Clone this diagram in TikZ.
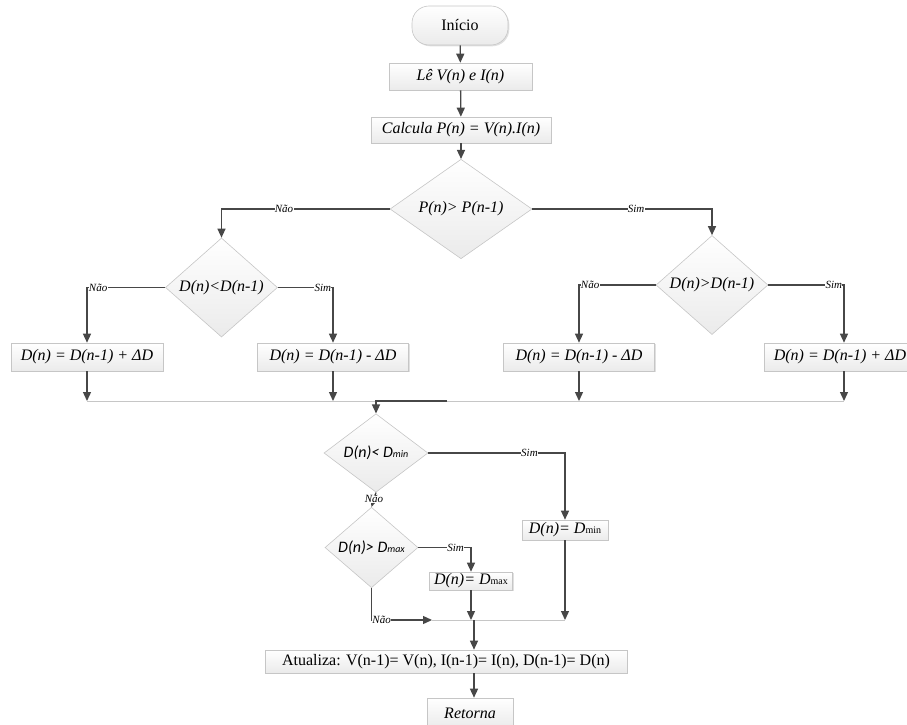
\documentclass[tikz,border=0pt]{standalone}
\usepackage{fontspec}
\setmainfont{Liberation Serif}
\newfontfamily\calfont{Carlito}
\usetikzlibrary{shapes.geometric,arrows.meta,shadows}
\begin{document}
\begin{tikzpicture}[x=1pt,y=-1pt,
  shade/.style={draw=gray!45, line width=0.6pt, top color=white, bottom color=gray!16},
  box/.style={shade, rectangle, inner sep=0pt,
    drop shadow={shadow xshift=1.3pt,shadow yshift=-1.3pt,opacity=0.35,fill=gray!70},
    font=\fontsize{16}{19}\selectfont\itshape},
  dec/.style={shade, diamond, inner sep=0pt, font=\fontsize{16}{19}\selectfont\itshape},
  arr/.style={draw=black!72, line width=1.3pt, -{Triangle[length=9pt,width=8pt]}},
  mg/.style={draw=gray!45, line width=0.8pt},
  lab/.style={font=\fontsize{11}{12}\selectfont\itshape, fill=white, inner sep=0.3pt}
]
\useasboundingbox (0,0) rectangle (907,725);

% nodes
\node[box, rounded corners=17pt, minimum width=96pt, minimum height=39pt, font=\fontsize{16}{19}\selectfont] (ini) at (460,25.5) {Início};
\node[box, minimum width=143pt, minimum height=27pt] (le) at (460.5,76.5) {Lê V(n) e I(n)};
\node[box, minimum width=180pt, minimum height=26pt] (calc) at (461,130) {Calcula P(n) = V(n).I(n)};
\node[dec, minimum width=142pt, minimum height=86pt] (dp) at (461,209) {P(n)> P(n-1)};
\node[dec, minimum width=112pt, minimum height=71pt] (dl) at (221.5,287.5) {D(n)<D(n-1)};
\node[dec, minimum width=112pt, minimum height=66pt] (dr) at (712,285) {D(n)>D(n-1)};
\node[box, minimum width=152pt, minimum height=28pt] (b1) at (87,357) {D(n) = D(n-1) + ΔD};
\node[box, minimum width=151pt, minimum height=28pt] (b2) at (333,357) {D(n) = D(n-1) - ΔD};
\node[box, minimum width=151pt, minimum height=28pt] (b3) at (579,357) {D(n) = D(n-1) - ΔD};
\node[box, minimum width=152pt, minimum height=28pt] (b4) at (840,357) {D(n) = D(n-1) + ΔD};
\node[dec, minimum width=104pt, minimum height=60pt, font=\fontsize{16}{19}\calfont\itshape] (dmin) at (376,453) {D(n)< D{\fontsize{10}{12}\selectfont min}};
\node[dec, minimum width=93pt, minimum height=55pt, font=\fontsize{16}{19}\calfont\itshape] (dmax) at (371.5,547.5) {D(n)> D{\fontsize{10}{12}\selectfont max}};
\node[box, minimum width=86pt, minimum height=20pt] (bmin) at (565,530) {D(n)= D{\fontsize{10}{12}\selectfont\upshape min}};
\node[box, minimum width=83pt, minimum height=18pt] (bmax) at (471,581) {D(n)= D{\fontsize{10}{12}\selectfont\upshape max}};
\node[box, minimum width=362pt, minimum height=23pt, font=\fontsize{16}{19}\selectfont] (atual) at (446,661.5) {Atualiza: V(n-1)= V(n), I(n-1)= I(n), D(n-1)= D(n)};
\node[box, minimum width=86pt, minimum height=30pt] (ret) at (470,713) {Retorna};

% helper coordinates
\coordinate (m) at (0,401);
\coordinate (j1) at (447,401);
\coordinate (j2) at (432,620);
\coordinate (j3) at (474,620);
\coordinate (c4) at (844,0);

% connectors
\draw[arr] (ini) -- (le);
\draw[arr] (le) -- (calc);
\draw[arr] (calc) -- (dp);
\draw[arr] (dp.west) -| node[lab,pos=0.314]{Não} (dl.north);
\draw[arr] (dp.east) -| node[lab,pos=0.289]{Sim} (dr.north);
\draw[arr] (dl.west) -| node[lab,pos=0.5,anchor=west,xshift=1pt]{Não} (b1.north);
\draw[arr] (dl.east) -| node[lab,pos=0.5,anchor=east,xshift=-1pt]{Sim} (b2.north);
\draw[arr] (dr.west) -| node[lab,pos=0.5,anchor=west,xshift=1pt]{Não} (b3.north);
\draw[arr] (dr.east) -| node[lab,pos=0.5,anchor=east,xshift=-1pt]{Sim} (c4 |- b4.north);

\draw[mg] (b1 |- m) -- (c4 |- m);
\draw[arr] (b1) -- (b1 |- m);
\draw[arr] (b2) -- (b2 |- m);
\draw[arr] (b3) -- (b3 |- m);
\draw[arr] (c4 |- b4.south) -- (c4 |- m);
\draw[arr] (j1) -| (dmin.north);

\draw[arr] (dmin.east) -| node[lab,pos=0.37]{Sim} (bmin.north);
\draw[arr] (dmin.south) -- node[lab,pos=0.46]{Não} (dmax.north);
\draw[arr] (dmax.east) -| node[lab,pos=0.354]{Sim} (bmax.north);
\draw[arr] (dmax.south) |- node[lab,pos=0.5,anchor=west]{Não} (j2);

\draw[mg] (j2) -- (bmin |- j2);
\draw[arr] (bmax) -- (bmax |- j2);
\draw[arr] (bmin) -- (bmin |- j2);
\draw[arr] (j3) -- (j3 |- atual.north);
\draw[arr] (j3 |- atual.south) -- (j3 |- ret.north);
\end{tikzpicture}
\end{document}
